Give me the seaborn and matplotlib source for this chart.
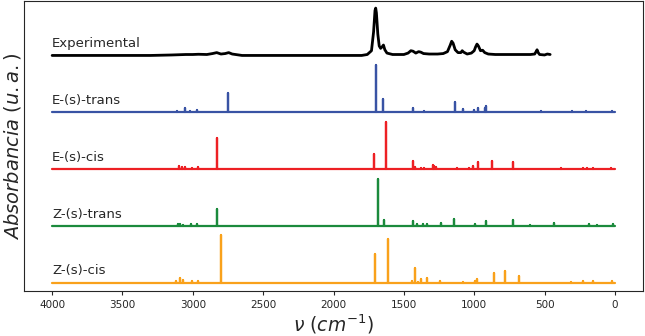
import numpy as np
import pandas as pd
import matplotlib
matplotlib.use("Agg")
import matplotlib.pyplot as plt
import seaborn as sns

# Experimental IR spectrum (cm-1, normalised absorbance)
exp_nu = [4000, 3500, 3300, 3150, 3050, 3000, 2960, 2900, 2860, 2830, 2800, 2770,
          2745, 2720, 2650, 2200, 1800, 1760, 1730, 1715, 1705, 1700, 1695, 1685,
          1675, 1665, 1655, 1645, 1635, 1620, 1580, 1500, 1470, 1450, 1435, 1415,
          1395, 1380, 1360, 1320, 1260, 1220, 1190, 1170, 1160, 1150, 1135, 1115,
          1095, 1085, 1075, 1050, 1020, 1000, 990, 980, 970, 955, 940, 925, 900,
          850, 700, 600, 570, 560, 553, 545, 535, 500, 480, 460]
exp_int = [0.0, 0.0, 0.0, 0.01, 0.02, 0.02, 0.025, 0.02, 0.04, 0.06, 0.03, 0.04,
           0.06, 0.03, 0.0, 0.0, 0.0, 0.02, 0.1, 0.5, 0.95, 1.0, 0.9, 0.45,
           0.2, 0.15, 0.18, 0.22, 0.12, 0.05, 0.02, 0.02, 0.05, 0.1, 0.09, 0.05,
           0.08, 0.07, 0.04, 0.03, 0.03, 0.04, 0.08, 0.22, 0.30, 0.26, 0.12, 0.06,
           0.06, 0.1, 0.07, 0.03, 0.05, 0.1, 0.18, 0.24, 0.2, 0.1, 0.11, 0.06, 0.03,
           0.02, 0.02, 0.02, 0.03, 0.08, 0.12, 0.06, 0.02, 0.01, 0.03, 0.02]

# Calculated frequencies (stick spectra)
e_trans_nu = [3111, 3057, 3021, 2967, 2750, 1700, 1650, 1433, 1357, 1295, 1137, 1076,
              998, 972, 925, 915, 527, 445, 305, 205, 21]
e_trans_int = [0.035, 0.08, 0.03, 0.05, 0.40, 1.0, 0.29, 0.09, 0.035, 0.015, 0.22, 0.06,
               0.05, 0.10, 0.10, 0.13, 0.03, 0.015, 0.02, 0.02, 0.02]

e_cis_nu = [3097, 3080, 3057, 3009, 2962, 2827, 1712, 1626, 1433, 1418, 1378, 1355,
            1295, 1285, 1272, 1123, 1035, 1007, 974, 875, 723, 385, 230, 195, 152, 28]
e_cis_int = [0.07, 0.04, 0.05, 0.03, 0.05, 0.66, 0.31, 1.0, 0.17, 0.04, 0.03, 0.03,
             0.09, 0.06, 0.05, 0.02, 0.02, 0.055, 0.14, 0.17, 0.16, 0.02, 0.02, 0.03, 0.02, 0.02]

z_trans_nu = [3104, 3092, 3069, 3014, 2970, 2827, 1681, 1641, 1433, 1407, 1362, 1336,
              1239, 1140, 993, 913, 721, 605, 430, 181, 128, 14]
z_trans_int = [0.05, 0.05, 0.02, 0.035, 0.035, 0.35, 1.0, 0.13, 0.11, 0.05, 0.04, 0.04,
               0.055, 0.15, 0.04, 0.10, 0.13, 0.02, 0.055, 0.04, 0.02, 0.03]

z_cis_nu = [3116, 3092, 3069, 3009, 2965, 2801, 1702, 1615, 1442, 1421, 1402, 1378,
            1338, 1241, 1083, 995, 981, 858, 782, 681, 312, 227, 152, 21]
z_cis_int = [0.03, 0.105, 0.055, 0.04, 0.045, 1.0, 0.60, 0.92, 0.04, 0.32, 0.025, 0.07,
             0.09, 0.035, 0.02, 0.03, 0.07, 0.20, 0.25, 0.15, 0.02, 0.045, 0.04, 0.03]

labels = ["Experimental", "E-(s)-trans", "E-(s)-cis", "Z-(s)-trans", "Z-(s)-cis"]
colors = ["black", "#3953a4", "#ed2024", "#1b8a3c", "#f9a11b"]
offsets = [4.8, 3.6, 2.4, 1.2, 0.0]


def stick_trace(nu, inten, offset, name):
    xs, ys = [4000], [0.0]
    for n, v in sorted(zip(nu, inten), reverse=True):
        xs += [n, n, n]
        ys += [0.0, v, 0.0]
    xs.append(0)
    ys.append(0.0)
    return pd.DataFrame({"nu": xs, "abs": np.array(ys) + offset, "label": name})


sticks = pd.concat([
    stick_trace(e_trans_nu, e_trans_int, offsets[1], labels[1]),
    stick_trace(e_cis_nu, e_cis_int, offsets[2], labels[2]),
    stick_trace(z_trans_nu, z_trans_int, offsets[3], labels[3]),
    stick_trace(z_cis_nu, z_cis_int, offsets[4], labels[4]),
], ignore_index=True)
exp_df = pd.DataFrame({"nu": exp_nu, "abs": np.array(exp_int) + offsets[0]})

sns.set_style("ticks")
fig = plt.figure(figsize=(6.45, 3.36), dpi=100)
ax = fig.add_axes([24 / 645, 45 / 336, 619 / 645, 290 / 336])

sns.lineplot(data=exp_df, x="nu", y="abs", color="black", lw=2,
             estimator=None, sort=False, ax=ax)
sns.lineplot(data=sticks, x="nu", y="abs", hue="label", hue_order=labels[1:],
             palette=colors[1:], lw=1.6, estimator=None, sort=False,
             legend=False, ax=ax)

for name, off in zip(labels, offsets):
    ax.text(4000, off + 0.25, name, fontsize=9.5, ha="left", va="center")

ax.set_xlim(4200, -200)
ax.set_ylim(-0.175, 5.95)
ax.set_xticks([4000, 3500, 3000, 2500, 2000, 1500, 1000, 500, 0])
ax.set_yticks([])
ax.tick_params(axis="x", labelsize=7.5, length=3)
ax.set_xlabel(r"$\nu\ (cm^{-1})$", fontsize=13.5, labelpad=2)
ax.set_ylabel(r"$Absorbancia\ (u.a.)$", fontsize=14, labelpad=1)

plt.savefig("out.png", dpi=100)
